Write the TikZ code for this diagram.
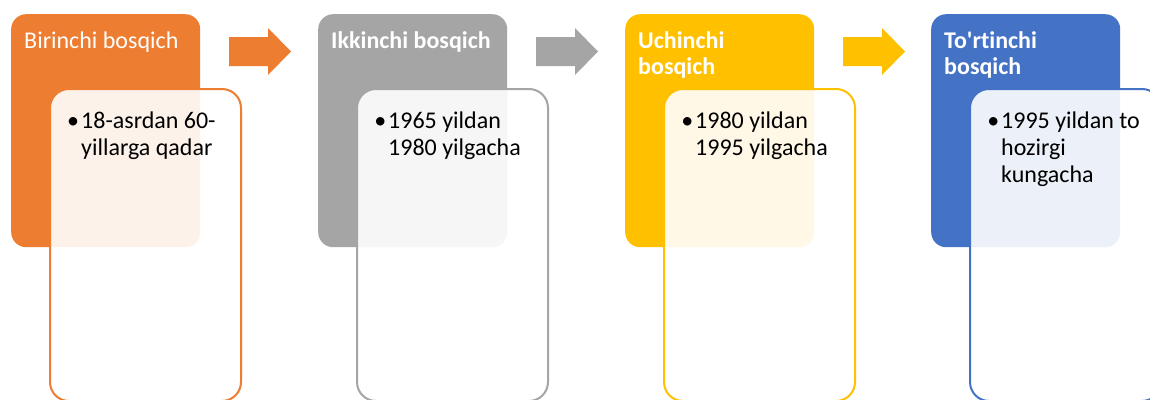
\documentclass[tikz,border=0pt]{standalone}
\usepackage{fontspec}
\setmainfont{Carlito}[Ligatures={NoCommon}]
\definecolor{stageorange}{HTML}{ED7D31}
\definecolor{stagegray}{HTML}{A5A5A5}
\definecolor{stagegold}{HTML}{FFC000}
\definecolor{stageblue}{HTML}{4472C4}
\tikzset{
    stagebox/.style={fill=#1, rounded corners=15pt, inner sep=0pt, anchor=north west,
        minimum width=189pt, minimum height=233pt},
    periodbox/.style={draw=#1, line width=2pt, fill=white, fill opacity=0.9, rounded corners=19pt,
        inner sep=0pt, anchor=north west, minimum width=191pt, minimum height=312pt},
    stagetitle/.style={text=white, font=\fontsize{24}{26}\selectfont, align=left,
        inner sep=0pt, anchor=base west},
    periodtext/.style={font=\fontsize{24}{27}\selectfont, align=left,
        inner sep=0pt, anchor=base west}
}
\newcommand{\bul}{\llap{\textbullet\kern2pt}}

\begin{document}
\begin{tikzpicture}[x=1pt, y=-1pt]
        \clip (0,0) rectangle (1150,399);
        \fill[white] (0,0) rectangle (1150,399);

        \node[stagebox=stageorange] (S1) at (11,14) {};
        \node[stagebox=stagegray] (S2) at (318,14) {};
        \node[stagebox=stagegold] (S3) at (625,14) {};
        \node[stagebox=stageblue] (S4) at (931,14) {};

        \node[periodbox=stageorange] (P1) at (49,88) {};
        \node[periodbox=stagegray] (P2) at (356,88) {};
        \node[periodbox=stagegold] (P3) at (663,88) {};
        \node[periodbox=stageblue] (P4) at (969,88) {};

        % the base of a node with several lines is its last line
        \node[stagetitle] (T1) at (24,48) {Birinchi bosqich};
        \node[stagetitle, font=\fontsize{24}{26}\selectfont\bfseries] (T2) at (331,48) {Ikkinchi bosqich};
        \node[stagetitle, font=\fontsize{24}{26}\selectfont\bfseries] (T3) at (638,74) {Uchinchi\\bosqich};
        \node[stagetitle, font=\fontsize{24}{26}\selectfont\bfseries] (T4) at (944,74) {To\textquotesingle rtinchi\\bosqich};

        \node[periodtext] (X1) at (81,155) {\bul 18-asrdan 60-\\yillarga qadar};
        \node[periodtext] (X2) at (388,155) {\bul 1965 yildan\\1980 yilgacha};
        \node[periodtext] (X3) at (695,155) {\bul 1980 yildan\\1995 yilgacha};
        \node[periodtext] (X4) at (1001,182) {\bul 1995 yildan to\\hozirgi\\kungacha};

        \fill[stageorange] (229,37) -- (268,37) -- (268,28) -- (291,51.5) -- (268,75) -- (268,66) -- (229,66) -- cycle;
        \fill[stagegray] (536,37) -- (575,37) -- (575,28) -- (598,51.5) -- (575,75) -- (575,66) -- (536,66) -- cycle;
        \fill[stagegold] (843,37) -- (882,37) -- (882,28) -- (905,51.5) -- (882,75) -- (882,66) -- (843,66) -- cycle;
    \end{tikzpicture}
\end{document}
